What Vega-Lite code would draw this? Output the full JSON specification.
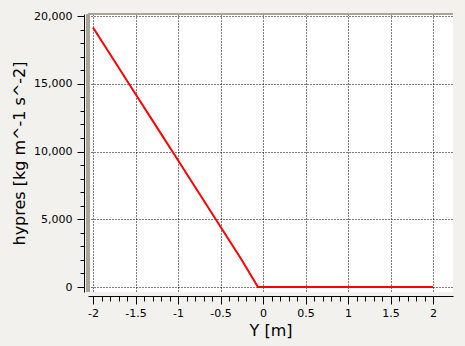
{
  "$schema": "https://vega.github.io/schema/vega-lite/v6.json",
  "width": 365,
  "height": 278,
  "autosize": {"type": "none"},
  "padding": {"left": 88, "top": 14, "right": 12, "bottom": 54},
  "background": "#f2f1ed",
  "view": {"fill": "white", "stroke": null},
  "config": {"font": "DejaVu Sans"},
  "data": {"values": [
    {"x": -2.0, "p": 19150},
    {"x": -1.75, "p": 16700},
    {"x": -1.5, "p": 14250},
    {"x": -1.25, "p": 11800},
    {"x": -1.0, "p": 9350},
    {"x": -0.75, "p": 6900},
    {"x": -0.5, "p": 4450},
    {"x": -0.25, "p": 2000},
    {"x": -0.06, "p": 0},
    {"x": 0.0, "p": 0},
    {"x": 1.0, "p": 0},
    {"x": 2.0, "p": 0}
  ]},
  "resolve": {"axis": {"x": "independent", "y": "independent"}},
  "layer": [
    {
      "mark": {"type": "line", "color": "#ff0000", "strokeWidth": 2},
      "encoding": {
        "x": {"field": "x", "type": "quantitative",
          "scale": {"domain": [-2.059, 2.235], "nice": false, "zero": false},
          "axis": {"orient": "bottom", "offset": 4, "values": [-2, -1.5, -1, -0.5, 0, 0.5, 1, 1.5, 2], "format": "~g",
            "labelExpr": "replace(datum.label, '\u2212', '-')",
            "title": "Y [m]", "titleFontSize": 16, "titleFontWeight": "normal", "titleColor": "black", "titlePadding": 4,
            "labelFontSize": 11, "labelColor": "black", "labelPadding": 3,
            "domainColor": "black", "tickColor": "black", "tickSize": 8,
            "grid": true, "gridColor": "black", "gridDash": [1, 2], "gridOpacity": 1}},
        "y": {"field": "p", "type": "quantitative",
          "scale": {"domain": [-369, 20148], "nice": false, "zero": false},
          "axis": {"orient": "left", "offset": 4, "values": [0, 5000, 10000, 15000, 20000], "format": ",d",
            "title": "hypres [kg m^-1 s^-2]", "titleFontSize": 16, "titleFontWeight": "normal", "titleColor": "black", "titlePadding": 6,
            "labelFontSize": 11, "labelColor": "black", "labelPadding": 5,
            "domainColor": "black", "tickColor": "black", "tickSize": 7,
            "grid": true, "gridColor": "black", "gridDash": [1, 2], "gridOpacity": 1}}
      }
    },
    {
      "mark": {"type": "rule", "color": "#a9a594", "strokeWidth": 2.5},
      "encoding": {
        "x": {"datum": -2.059, "type": "quantitative", "axis": {"orient": "bottom", "offset": 4, "values": [-1.9, -1.8, -1.7, -1.6, -1.4, -1.3, -1.2, -1.1, -0.9, -0.8, -0.7, -0.6, -0.4, -0.3, -0.2, -0.1, 0.1, 0.2, 0.3, 0.4, 0.6, 0.7, 0.8, 0.9, 1.1, 1.2, 1.3, 1.4, 1.6, 1.7, 1.8, 1.9], "labels": false, "title": null, "domain": false, "tickColor": "black", "tickSize": 5, "grid": false}}
      }
    },
    {
      "mark": {"type": "rule", "color": "#a9a594", "strokeWidth": 2},
      "encoding": {
        "y": {"datum": 20148, "type": "quantitative", "axis": {"orient": "left", "offset": 4, "values": [1000, 2000, 3000, 4000, 6000, 7000, 8000, 9000, 11000, 12000, 13000, 14000, 16000, 17000, 18000, 19000], "labels": false, "title": null, "domain": false, "tickColor": "black", "tickSize": 4, "grid": false}}
      }
    }
  ]
}
